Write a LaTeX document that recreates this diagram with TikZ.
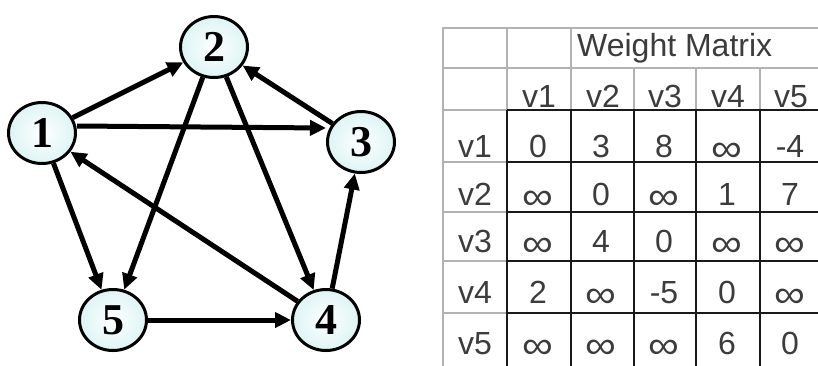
\documentclass[tikz,border=0pt]{standalone}
\usepackage{fontspec}
\usepackage{graphicx}
\usepackage{tikz}
\usetikzlibrary{arrows.meta,shapes.geometric,positioning}
\newfontfamily\tabfont{Liberation Sans}
\newfontfamily\vertfont{Liberation Serif}
\newcommand{\infsym}{\raisebox{-0.14em}{\scalebox{1.35}[1.2]{∞}}}
\definecolor{vfill}{RGB}{222,244,244}
\definecolor{tabtext}{RGB}{60,60,60}

\begin{document}
\begin{tikzpicture}[x=1pt,y=-1pt,
	vert/.style={ellipse,draw,line width=3pt,inner color=white,outer color=vfill,minimum width=67pt,minimum height=61pt,inner sep=0pt,
		font=\vertfont\bfseries\fontsize{44}{44}\selectfont},
	edge/.style={line width=5pt,-{Triangle[length=16pt,width=15pt]}},
	cell/.style={anchor=base,inner sep=0pt,text=tabtext,font=\tabfont\fontsize{32}{34}\selectfont},
	thingrid/.style={draw=black!30,line width=1.5pt},
	thickgrid/.style={draw=black!90,line width=2.2pt}]
	\clip (0,0) rectangle (818,365);
	\fill[white] (0,0) rectangle (818,365);
	% the graph
	\node[vert] (v1) at (42,133) {1};
	\node[vert] (v2) at (214,47) {2};
	\node[vert] (v3) at (361,142) {3};
	\node[vert] (v4) at (326,320) {4};
	\node[vert] (v5) at (113,320) {5};
	\draw[edge] (v1) -- (v2);
	\draw[edge] ([yshift=7pt]v1.east) -- ([yshift=14pt]v3.west);
	\draw[edge] (v1) -- (v5);
	\draw[edge] (v2) -- (v5);
	\draw[edge] (v2) -- (v4);
	\draw[edge] (v3) -- (v2);
	\draw[edge] (v4) -- (v3);
	\draw[edge] (v4) -- (v1);
	\draw[edge] (v5) -- (v4);
	% the table
	\draw[thingrid] (443,28) rectangle (830,380);
	\draw[thingrid] (443,68) -- (830,68);
	\draw[thingrid] (443,110) -- (507,110);
	\foreach \x in {507,571}
	\draw[thingrid] (\x,28) -- (\x,110);
	\foreach \x in {634,696,760}
	\draw[thingrid] (\x,68) -- (\x,110);
	\foreach \y in {162,212,261,313}
	\draw[thingrid] (443,\y) -- (507,\y);
	\foreach \x in {507,571,634,696,760}
	\draw[thickgrid] (\x,110) -- (\x,380);
	\foreach \y in {110,162,212,261,313}
	\draw[thickgrid] (507,\y) -- (830,\y);
	\node[cell,anchor=base west] (title) at (577,56) {Weight Matrix};
	\foreach \c/\x in {1/539,2/603,3/665,4/728,5/791}
	\node[cell] (head-\c) at (\x,107) {v\c};
	\foreach \r/\yb/\row in {1/157/{0,3,8,\infsym,-4},2/205/{\infsym,0,\infsym,1,7},3/252/{\infsym,4,0,\infsym,\infsym},4/303/{2,\infsym,-5,0,\infsym},5/354/{\infsym,\infsym,\infsym,6,0}} {
		\node[cell] (lab-\r) at (475,\yb) {v\r};
		\foreach \val [count=\c] in \row
		\node[cell] (w-\r-\c) at (475+63*\c,\yb) {\val};
	}
\end{tikzpicture}
\end{document}
